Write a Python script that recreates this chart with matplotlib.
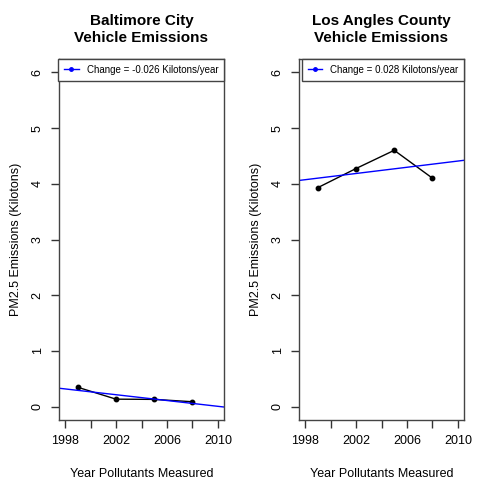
import numpy as np
import matplotlib
matplotlib.use('agg')
import matplotlib.pyplot as plt
from matplotlib.lines import Line2D

years = [1999, 2002, 2005, 2008]
baltimore = [0.347, 0.134, 0.130, 0.088]
los_angeles = [3.931, 4.274, 4.601, 4.101]
titles = ["Baltimore City\nVehicle Emissions", "Los Angles County\nVehicle Emissions"]
x_ticks = [1998, 2000, 2002, 2004, 2006, 2008, 2010]
x_labels = ["1998", "", "2002", "", "2006", "", "2010"]
y_ticks = [0, 1, 2, 3, 4, 5, 6]

plt.rcParams['font.family'] = ['Liberation Sans', 'DejaVu Sans']

fig = plt.figure(figsize=(4.8, 4.8), dpi=100)
lefts = [59 / 480, 299 / 480]

for left, title, vals in zip(lefts, titles, [baltimore, los_angeles]):
    ax = fig.add_axes([left, 60 / 480, 165 / 480, 361 / 480])
    slope, icpt = np.polyfit(years, vals, 1)
    ax.plot(years, vals, color='black', lw=1, marker='o', ms=3.2)
    ax.axline((2000, icpt + slope * 2000), slope=slope, color='blue', lw=1)
    ax.set_xlim(1997.52, 2010.48)
    ax.set_ylim(-0.24, 6.24)
    ax.set_xticks(x_ticks)
    ax.set_xticklabels(x_labels)
    ax.set_yticks(y_ticks)
    ax.tick_params(axis='both', direction='out', length=6, width=1, colors='#333333',
                   labelsize=9, labelcolor='black', pad=5)
    ax.tick_params(axis='y', labelrotation=90)
    for lab in ax.get_yticklabels():
        lab.set_verticalalignment('center')
    for sp in ax.spines.values():
        sp.set_color('#444444')
        sp.set_linewidth(1)
    ax.set_title(title, fontsize=11, fontweight='bold', pad=12, linespacing=1.3)
    ax.set_xlabel("Year Pollutants Measured", fontsize=9, labelpad=15)
    ax.set_ylabel("PM2.5 Emissions (Kilotons)", fontsize=9, labelpad=7)
    h = Line2D([], [], color='blue', lw=1, marker='o', ms=2.5)
    leg = ax.legend([h], ["Change = %.3f Kilotons/year" % slope], loc='upper right',
                    borderaxespad=0, fancybox=False, framealpha=1, edgecolor='#444444',
                    fontsize=7, handlelength=1.5, handletextpad=0.8, numpoints=1,
                    borderpad=0.6)
    leg.get_frame().set_linewidth(1)

plt.savefig('out.png', dpi=100)
